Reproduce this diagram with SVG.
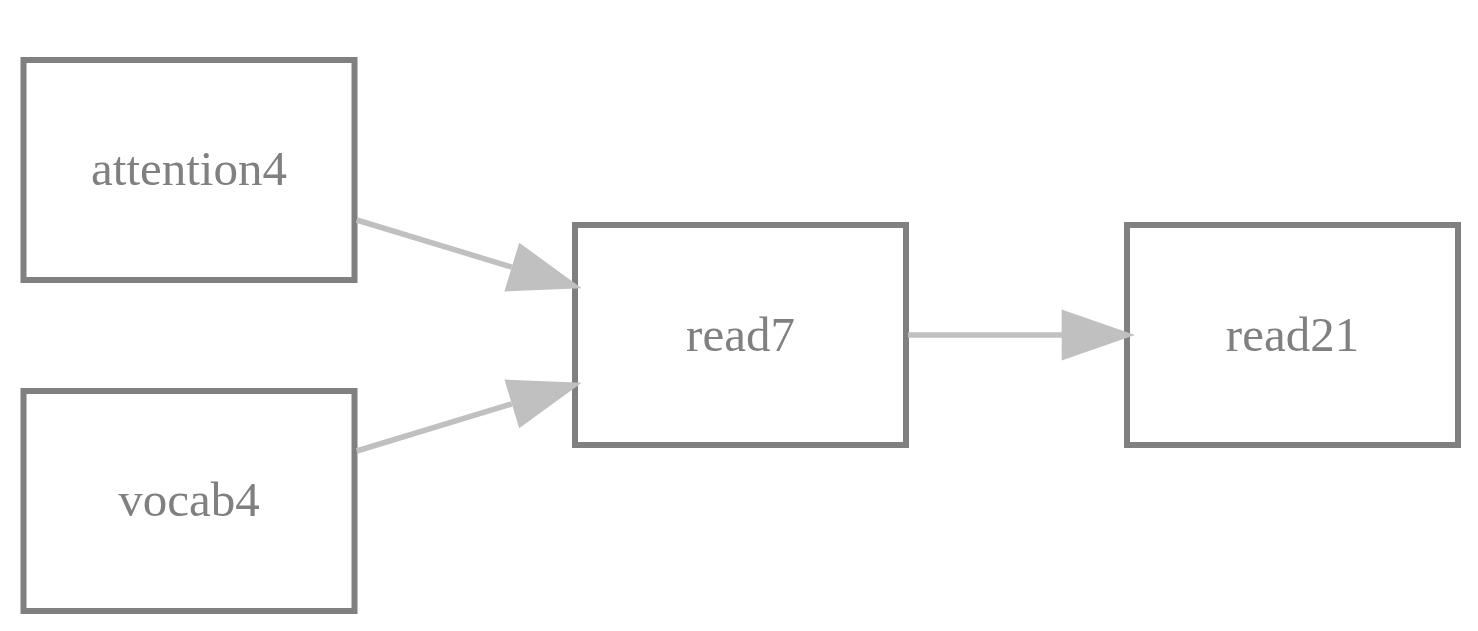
<svg xmlns="http://www.w3.org/2000/svg" width="1478" height="631" viewBox="0 0 1478 631">
<style>
.box{fill:#ffffff;stroke:#808080;stroke-width:6}
.lbl{font-family:"Liberation Serif","Times New Roman",serif;font-size:49px;fill:#808080;text-anchor:middle}
.edge{stroke:#c0c0c0;stroke-width:5.5;fill:none}
.head{fill:#c0c0c0;stroke:none}
</style>
<rect x="0" y="0" width="1478" height="631" fill="#ffffff"/>
<g id="attention4">
<rect class="box" x="23.5" y="60" width="331" height="220"/>
<text class="lbl" x="189" y="185">attention4</text>
</g>
<g id="vocab4">
<rect class="box" x="23.5" y="391" width="331" height="220"/>
<text class="lbl" x="189" y="516">vocab4</text>
</g>
<g id="read7">
<rect class="box" x="575" y="225" width="331" height="220"/>
<text class="lbl" x="740.5" y="350.5">read7</text>
</g>
<g id="read21">
<rect class="box" x="1127" y="225" width="331" height="220"/>
<text class="lbl" x="1292.5" y="350.5">read21</text>
</g>
<g id="connectors">
<line class="edge" x1="356.7" y1="220" x2="511.8" y2="267.1"/>
<polygon class="head" points="581.7,288.3 519.2,242.7 504.4,291.5"/>
<line class="edge" x1="356.7" y1="451" x2="511.8" y2="403.9"/>
<polygon class="head" points="581.7,382.7 504.4,379.5 519.2,428.3"/>
<line class="edge" x1="908" y1="335" x2="1062" y2="335"/>
<polygon class="head" points="1135,335 1061.7,309.5 1061.7,360.5"/>
</g>
</svg>
